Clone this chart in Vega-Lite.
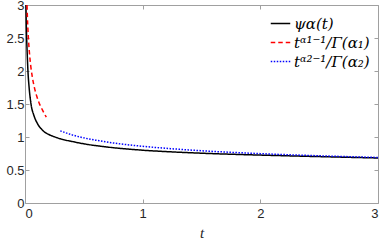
{
  "$schema": "https://vega.github.io/schema/vega-lite/v6.json",
  "width": 353,
  "height": 198,
  "autosize": {"type": "none"},
  "padding": {"left": 25, "top": 5, "right": 4, "bottom": 37},
  "background": "white",
  "view": {"stroke": null},
  "config": {
    "axis": {
      "domainColor": "#a0a0a0",
      "tickColor": "#a0a0a0",
      "labelColor": "#262626",
      "labelFont": "Liberation Sans",
      "labelFontSize": 13,
      "grid": false,
      "tickSize": -4,
      "domainWidth": 1
    }
  },
  "data": {
    "values": [
      {"s": "ψα(t)", "t": 0.008, "y": 3.0},
      {"s": "ψα(t)", "t": 0.011, "y": 2.7},
      {"s": "ψα(t)", "t": 0.014, "y": 2.5},
      {"s": "ψα(t)", "t": 0.019, "y": 2.25},
      {"s": "ψα(t)", "t": 0.025, "y": 2.0},
      {"s": "ψα(t)", "t": 0.035, "y": 1.75},
      {"s": "ψα(t)", "t": 0.051, "y": 1.5},
      {"s": "ψα(t)", "t": 0.075, "y": 1.33},
      {"s": "ψα(t)", "t": 0.107, "y": 1.2},
      {"s": "ψα(t)", "t": 0.15, "y": 1.1},
      {"s": "ψα(t)", "t": 0.2, "y": 1.04},
      {"s": "ψα(t)", "t": 0.24, "y": 1.01},
      {"s": "ψα(t)", "t": 0.3, "y": 0.973},
      {"s": "ψα(t)", "t": 0.4, "y": 0.932},
      {"s": "ψα(t)", "t": 0.5, "y": 0.897},
      {"s": "ψα(t)", "t": 0.7, "y": 0.848},
      {"s": "ψα(t)", "t": 1.0, "y": 0.8},
      {"s": "ψα(t)", "t": 1.3, "y": 0.77},
      {"s": "ψα(t)", "t": 1.66, "y": 0.744},
      {"s": "ψα(t)", "t": 2.0, "y": 0.726},
      {"s": "ψα(t)", "t": 2.5, "y": 0.703},
      {"s": "ψα(t)", "t": 3.0, "y": 0.682},
      {"s": "tᵅ¹⁻¹/Γ(α₁)", "t": 0.0171, "y": 3.0},
      {"s": "tᵅ¹⁻¹/Γ(α₁)", "t": 0.02, "y": 2.839},
      {"s": "tᵅ¹⁻¹/Γ(α₁)", "t": 0.025, "y": 2.626},
      {"s": "tᵅ¹⁻¹/Γ(α₁)", "t": 0.03, "y": 2.463},
      {"s": "tᵅ¹⁻¹/Γ(α₁)", "t": 0.04, "y": 2.228},
      {"s": "tᵅ¹⁻¹/Γ(α₁)", "t": 0.05, "y": 2.06},
      {"s": "tᵅ¹⁻¹/Γ(α₁)", "t": 0.06, "y": 1.933},
      {"s": "tᵅ¹⁻¹/Γ(α₁)", "t": 0.08, "y": 1.748},
      {"s": "tᵅ¹⁻¹/Γ(α₁)", "t": 0.1, "y": 1.617},
      {"s": "tᵅ¹⁻¹/Γ(α₁)", "t": 0.12, "y": 1.516},
      {"s": "tᵅ¹⁻¹/Γ(α₁)", "t": 0.15, "y": 1.403},
      {"s": "tᵅ¹⁻¹/Γ(α₁)", "t": 0.181, "y": 1.3},
      {"s": "tᵅ²⁻¹/Γ(α₂)", "t": 0.3, "y": 1.093},
      {"s": "tᵅ²⁻¹/Γ(α₂)", "t": 0.4, "y": 1.032},
      {"s": "tᵅ²⁻¹/Γ(α₂)", "t": 0.5, "y": 0.987},
      {"s": "tᵅ²⁻¹/Γ(α₂)", "t": 0.6, "y": 0.952},
      {"s": "tᵅ²⁻¹/Γ(α₂)", "t": 0.8, "y": 0.898},
      {"s": "tᵅ²⁻¹/Γ(α₂)", "t": 1.0, "y": 0.859},
      {"s": "tᵅ²⁻¹/Γ(α₂)", "t": 1.25, "y": 0.822},
      {"s": "tᵅ²⁻¹/Γ(α₂)", "t": 1.5, "y": 0.792},
      {"s": "tᵅ²⁻¹/Γ(α₂)", "t": 2.0, "y": 0.748},
      {"s": "tᵅ²⁻¹/Γ(α₂)", "t": 2.5, "y": 0.715},
      {"s": "tᵅ²⁻¹/Γ(α₂)", "t": 3.0, "y": 0.69}
    ]
  },
  "layer": [
    {
      "mark": {"type": "line", "clip": true, "strokeWidth": 1.5, "interpolate": "monotone"},
      "encoding": {
        "x": {
          "field": "t", "type": "quantitative",
          "scale": {"domain": [0, 3], "nice": false, "zero": false},
          "axis": {"orient": "bottom", "values": [0, 1, 2, 3], "title": "t",
            "titleFont": "Liberation Serif", "titleFontStyle": "italic", "titleFontWeight": "normal",
            "titleFontSize": 15, "titleColor": "#262626", "labelPadding": 8, "titlePadding": 5}
        },
        "y": {
          "field": "y", "type": "quantitative",
          "scale": {"domain": [0, 3], "nice": false},
          "axis": {"orient": "left", "values": [0, 0.5, 1, 1.5, 2, 2.5, 3], "format": "~g", "title": null, "labelPadding": 5}
        },
        "color": {
          "field": "s", "type": "nominal",
          "scale": {"domain": ["ψα(t)", "tᵅ¹⁻¹/Γ(α₁)", "tᵅ²⁻¹/Γ(α₂)"], "range": ["#000000", "#ff0000", "#0000ff"]},
          "legend": {
            "title": null, "orient": "top-right", "offset": 5, "padding": 3,
            "fillColor": "white", "strokeColor": null,
            "symbolType": "stroke", "symbolSize": 380, "symbolStrokeWidth": 1.5,
            "labelFont": "DejaVu Serif", "labelFontStyle": "italic", "labelFontSize": 15,
            "labelColor": "#000000", "rowPadding": 0, "labelOffset": 3, "labelLimit": 200
          }
        },
        "strokeDash": {
          "field": "s", "type": "nominal",
          "scale": {"domain": ["ψα(t)", "tᵅ¹⁻¹/Γ(α₁)", "tᵅ²⁻¹/Γ(α₂)"], "range": [[1, 0], [4.5, 3], [1.5, 1.5]]},
          "legend": null
        },
        "order": {"field": "t", "type": "quantitative"}
      }
    },
    {
      "mark": {"type": "point", "opacity": 0},
      "encoding": {
        "x": {"field": "t", "type": "quantitative", "axis": {"orient": "top", "values": [0, 1, 2, 3], "labels": false, "title": null}},
        "y": {"field": "y", "type": "quantitative", "axis": {"orient": "right", "values": [0, 0.5, 1, 1.5, 2, 2.5, 3], "labels": false, "title": null}}
      }
    }
  ]
}
